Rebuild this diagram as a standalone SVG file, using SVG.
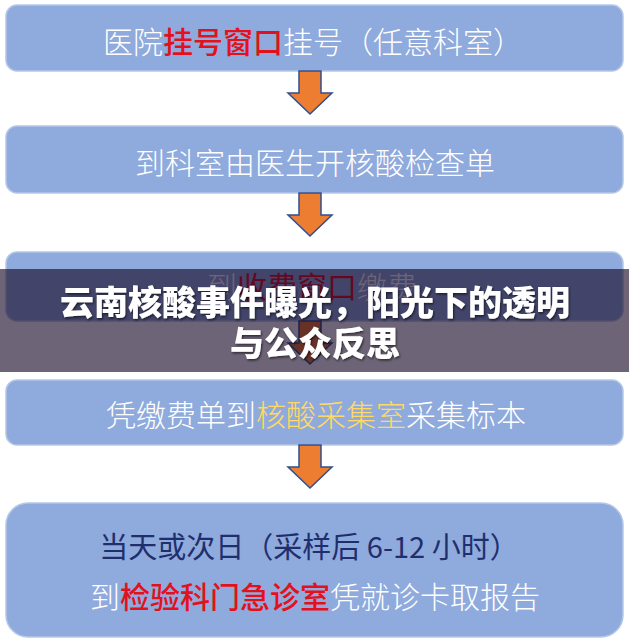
<svg xmlns="http://www.w3.org/2000/svg" width="629" height="642" viewBox="0 0 629 642">
<style>
.box{fill:#8faadc;stroke:#b4c7e7;stroke-width:1.5}
.t{font-family:"Noto Sans CJK SC","Noto Sans",sans-serif;font-size:30px;fill:#ffffff;font-weight:300;text-anchor:middle}
.red{fill:#e3111b;font-weight:500}
.yel{fill:#ffd966}
.navy{fill:#1f2f6e;font-weight:400;font-size:29px}
.arr{fill:#ed7d31;stroke:#2f4f8f;stroke-width:1.5;stroke-linejoin:miter}
.title{font-family:"Noto Sans CJK SC","Noto Sans",sans-serif;font-size:34px;font-weight:900;fill:#ffffff;text-anchor:middle}
</style>
<defs>
<polygon id="arrow" class="arr" points="-11,0 11,0 11,22 22,22 0,43 -22,22 -11,22"/>
<filter id="sh" x="-5%" y="-20%" width="110%" height="140%">
<feDropShadow dx="1" dy="1.5" stdDeviation="1" flood-color="#000000" flood-opacity="0.6"/>
</filter>
</defs>
<rect x="0" y="0" width="629" height="642" fill="#ffffff"/>
<g id="node1">
<rect class="box" x="6" y="5" width="617" height="66" rx="11"/>
<text class="t" x="313" y="53">医院<tspan class="red">挂号窗口</tspan>挂号（任意科室）</text>
</g>
<g id="node2">
<rect class="box" x="6" y="126" width="617" height="67" rx="11"/>
<text class="t" x="315" y="174">到科室由医生开核酸检查单</text>
</g>
<g id="node3">
<rect class="box" x="6" y="252" width="617" height="69" rx="11"/>
<text class="t" x="312" y="298">到<tspan class="red" style="font-weight:400">收费窗口</tspan>缴费</text>
</g>
<g id="node4">
<rect class="box" x="6" y="380" width="617" height="65" rx="11"/>
<text class="t" x="316" y="426">凭缴费单到<tspan class="yel">核酸采集室</tspan>采集标本</text>
</g>
<g id="node5">
<rect class="box" x="6" y="503" width="617" height="134" rx="22"/>
<text class="t navy" x="309" y="558">当天或次日（采样后 6-12 小时）</text>
<text class="t" x="315" y="608">到<tspan class="red">检验科门急诊室</tspan>凭就诊卡取报告</text>
</g>
<g id="connectors">
<use href="#arrow" x="310" y="71"/>
<use href="#arrow" x="310" y="193"/>
<use href="#arrow" x="310" y="321"/>
<use href="#arrow" x="310" y="445"/>
</g>
<g id="banner">
<rect x="0" y="269" width="629" height="103" fill="rgb(20,5,35)" fill-opacity="0.62"/>
<text class="title" x="315" y="315" filter="url(#sh)">云南核酸事件曝光，阳光下的透明</text>
<text class="title" x="315" y="356" filter="url(#sh)">与公众反思</text>
</g>
</svg>
